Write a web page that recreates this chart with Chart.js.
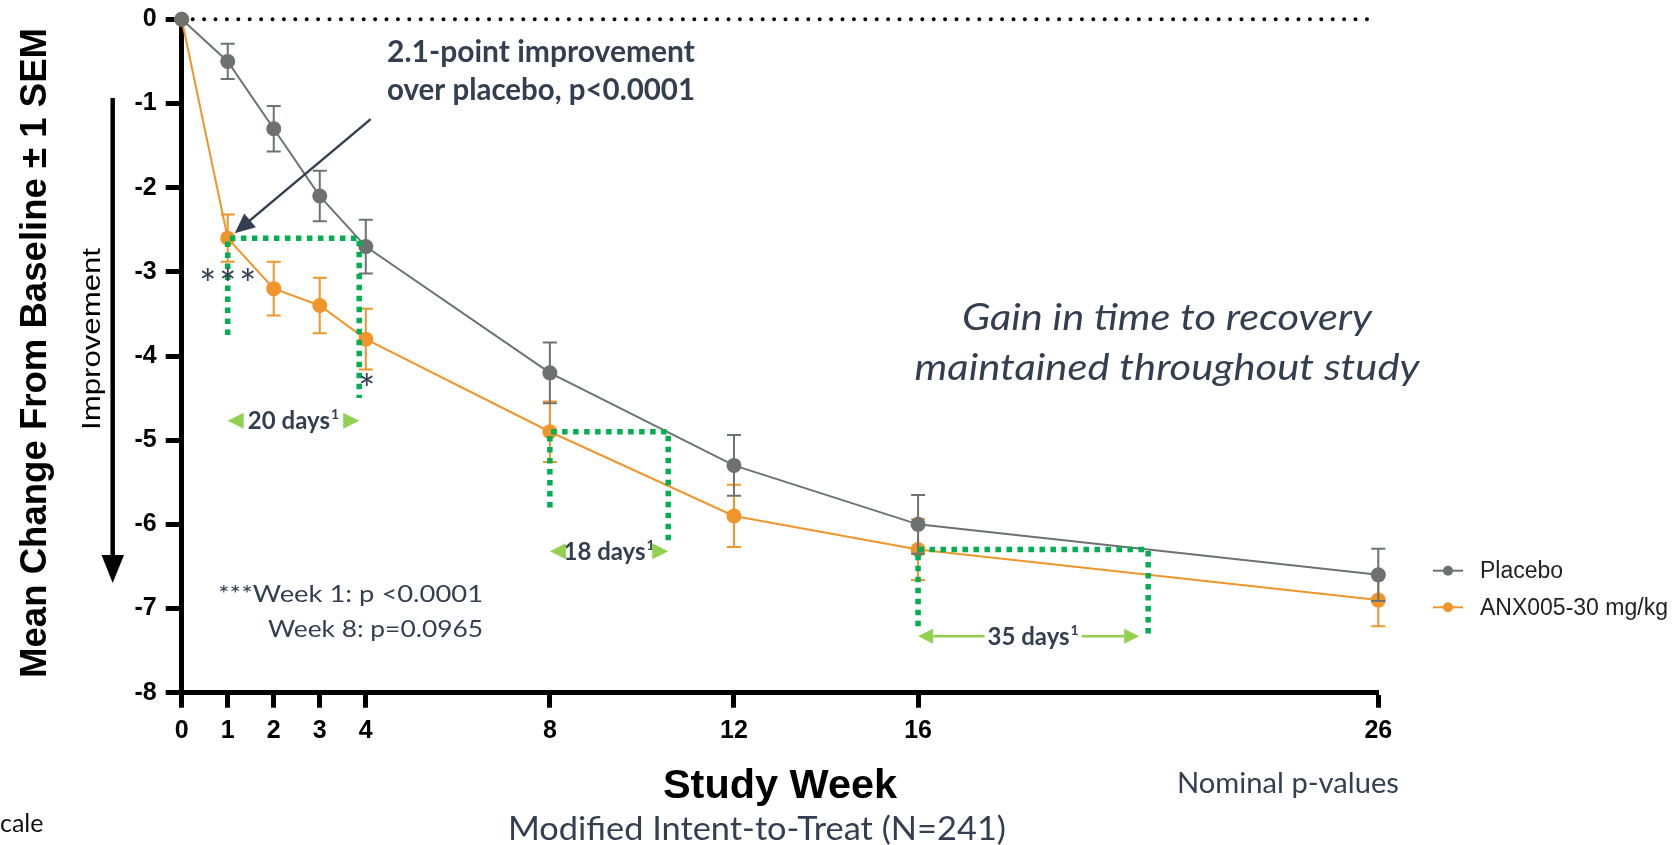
<!DOCTYPE html>
<html>
<head>
<meta charset="utf-8">
<script src="https://cdn.jsdelivr.net/npm/chart.js@4.4.1/dist/chart.umd.min.js"></script>
<style>
  html, body { margin: 0; padding: 0; background: #fff; }
</style>
</head>
<body>
<canvas id="recovery" width="1678" height="845"></canvas>
<script>
// study data (mean change from baseline, +/- 1 SEM)
const weeks = [0, 1, 2, 3, 4, 8, 12, 16, 26]
const placebo = [0, -0.5, -1.3, -2.1, -2.7, -4.2, -5.3, -6.0, -6.6]
const placeboSem = [0, 0.21, 0.27, 0.30, 0.32, 0.36, 0.36, 0.35, 0.31]
const anx = [0, -2.6, -3.2, -3.4, -3.8, -4.9, -5.9, -6.3, -6.9]
const anxSem = [0, 0.28, 0.32, 0.33, 0.36, 0.36, 0.37, 0.36, 0.31]
const xTicks = [0, 1, 2, 3, 4, 8, 12, 16, 26]
const yTicks = [0, -1, -2, -3, -4, -5, -6, -7, -8]
// time-to-recovery gains: start week and days gained
const gainWeeks = [1, 8, 16]
const gainDays = [20, 18, 35]

const GRAY = '#6d7271'
const ORANGE = '#f0952a'
const GREEN = '#00b050'
const LIGHTGREEN = '#92d050'
const SLATE = '#333f50'

// where the dotted guides and day labels sit (value units)
const gainLayout = [
  {leftDrop: -3.75, rightDrop: -4.5, labelY: -4.77, arrowLine: false},
  {leftDrop: -5.8, rightDrop: -6.24, labelY: -6.32, arrowLine: false},
  {leftDrop: -7.21, rightDrop: -7.35, labelY: -7.33, arrowLine: true}
]

function fitText(ctx, text, x, y, w, align) {
  const m = ctx.measureText(text).width
  ctx.save()
  ctx.translate(x, y)
  ctx.scale(w / m, 1)
  ctx.textAlign = align || 'left'
  ctx.fillText(text, 0, 0)
  ctx.restore()
}

function toPoints(vals) {
  return weeks.map((w, i) => ({x: w, y: vals[i]}))
}

const decor = {
  id: 'decor',
  beforeDatasetsDraw(chart) {
    const {ctx, chartArea, scales} = chart
    // dotted zero line
    ctx.save()
    ctx.strokeStyle = '#000'
    ctx.lineWidth = 4
    ctx.lineCap = 'round'
    ctx.setLineDash([0, 11.4])
    const y0 = scales.y.getPixelForValue(0)
    ctx.beginPath()
    ctx.moveTo(chartArea.left + 11, y0)
    ctx.lineTo(chartArea.right - 9, y0)
    ctx.stroke()
    ctx.restore()
  },
  beforeDatasetDraw(chart, args) {
    const {ctx, scales} = chart
    const ds = chart.data.datasets[args.index]
    ctx.save()
    ctx.strokeStyle = ds.borderColor
    ctx.lineWidth = 2
    ds.data.forEach((p, j) => {
      const s = ds.sem[j]
      if (!s) return
      const x = scales.x.getPixelForValue(p.x)
      const yt = scales.y.getPixelForValue(p.y + s)
      const yb = scales.y.getPixelForValue(p.y - s)
      ctx.beginPath()
      ctx.moveTo(x, yt); ctx.lineTo(x, yb)
      ctx.moveTo(x - 7, yt); ctx.lineTo(x + 7, yt)
      ctx.moveTo(x - 7, yb); ctx.lineTo(x + 7, yb)
      ctx.stroke()
    })
    ctx.restore()
  },
  afterDatasetsDraw(chart) {
    const {ctx, scales} = chart
    const xs = scales.x, ys = scales.y

    // green dotted guides and day labels
    gainWeeks.forEach((w, i) => {
      const lay = gainLayout[i]
      const val = anx[weeks.indexOf(w)]
      const endW = w + gainDays[i] / 7
      const x1 = xs.getPixelForValue(w), x2 = xs.getPixelForValue(endW)
      const yv = ys.getPixelForValue(val)
      ctx.save()
      ctx.strokeStyle = GREEN
      ctx.lineWidth = 5.5
      ctx.setLineDash([5.5, 5.5])
      ctx.beginPath()
      ctx.moveTo(x1, ys.getPixelForValue(lay.leftDrop)); ctx.lineTo(x1, yv); ctx.lineTo(x2, yv)
      ctx.lineTo(x2, ys.getPixelForValue(lay.rightDrop))
      ctx.stroke()
      ctx.restore()

      const ly = ys.getPixelForValue(lay.labelY)
      const cx = (x1 + x2) / 2
      ctx.save()
      ctx.font = 'bold 24px Lato'
      const main = gainDays[i] + ' days'
      const mw = ctx.measureText(main).width
      ctx.font = 'bold 14px Lato'
      const sw = ctx.measureText('1').width
      const tw = mw + sw + 1
      const tx = cx - tw / 2
      ctx.fillStyle = SLATE
      ctx.font = 'bold 24px Lato'
      ctx.textAlign = 'left'
      ctx.fillText(main, tx, ly + 8.5)
      ctx.font = 'bold 14px Lato'
      ctx.fillText('1', tx + mw + 1, ly - 1.5)
      // arrows
      ctx.fillStyle = LIGHTGREEN
      ctx.strokeStyle = LIGHTGREEN
      const hl = lay.arrowLine ? 15 : 16, hh = lay.arrowLine ? 7.5 : 8
      const rx = lay.arrowLine ? x2 - 9 : x2
      ctx.beginPath()
      ctx.moveTo(x1, ly); ctx.lineTo(x1 + hl, ly - hh); ctx.lineTo(x1 + hl, ly + hh); ctx.closePath()
      ctx.moveTo(rx, ly); ctx.lineTo(rx - hl, ly - hh); ctx.lineTo(rx - hl, ly + hh); ctx.closePath()
      ctx.fill()
      if (lay.arrowLine) {
        ctx.lineWidth = 2.5
        ctx.beginPath()
        ctx.moveTo(x1 + hl, ly); ctx.lineTo(tx - 3, ly)
        ctx.moveTo(tx + tw + 3, ly); ctx.lineTo(rx - hl, ly)
        ctx.stroke()
      }
      ctx.restore()
    })

    // asterisks
    ctx.save()
    ctx.fillStyle = SLATE
    ctx.font = '40px Lato'
    ctx.textAlign = 'center'
    const ax = xs.getPixelForValue(1), ay = ys.getPixelForValue(-3.04)
    ;[-20, 0, 20].forEach(d => ctx.fillText('*', ax + d, ay + 24))
    ctx.fillText('*', xs.getPixelForValue(4) + 1, ys.getPixelForValue(-4.3) + 23)
    ctx.restore()

    // callout arrow to week 1 point
    const px = xs.getPixelForValue(1) + 7, py = ys.getPixelForValue(anx[1]) - 5
    const qx = px + 136, qy = py - 114
    const ang = Math.atan2(py - qy, px - qx)
    ctx.save()
    ctx.strokeStyle = SLATE
    ctx.fillStyle = SLATE
    ctx.lineWidth = 2.5
    ctx.beginPath()
    ctx.moveTo(qx, qy)
    ctx.lineTo(px - Math.cos(ang) * 16, py - Math.sin(ang) * 16)
    ctx.stroke()
    ctx.beginPath()
    ctx.moveTo(px, py)
    ctx.lineTo(px - Math.cos(ang) * 20 + Math.sin(ang) * 9, py - Math.sin(ang) * 20 - Math.cos(ang) * 9)
    ctx.lineTo(px - Math.cos(ang) * 20 - Math.sin(ang) * 9, py - Math.sin(ang) * 20 + Math.cos(ang) * 9)
    ctx.closePath()
    ctx.fill()
    ctx.restore()

    // annotation texts
    ctx.save()
    ctx.fillStyle = SLATE
    ctx.textBaseline = 'alphabetic'
    ctx.font = 'bold 31px Lato'
    fitText(ctx, '2.1-point improvement', 387, 62, 308)
    fitText(ctx, 'over placebo, p<0.0001', 387, 100, 308)
    ctx.font = 'italic 37px Lato'
    fitText(ctx, 'Gain in time to recovery', 1167, 330, 410, 'center')
    fitText(ctx, 'maintained throughout study', 1167, 380, 505, 'center')
    ctx.font = '24px Lato'
    fitText(ctx, '***Week 1: p <0.0001', 483, 602, 265, 'right')
    fitText(ctx, 'Week 8: p=0.0965', 483, 637, 215, 'right')
    ctx.font = '32px Lato'
    fitText(ctx, 'Modified Intent-to-Treat (N=241)', 508, 840, 498)
    ctx.font = '28px Lato'
    fitText(ctx, 'Nominal p-values', 1177, 793, 222)
    ctx.fillStyle = '#111'
    ctx.font = '25px Lato'
    ctx.fillText('cale', 0, 832)
    ctx.restore()

    // axis titles
    ctx.save()
    ctx.fillStyle = '#000'
    ctx.font = 'bold 40px "Liberation Sans"'
    fitText(ctx, 'Study Week', 663, 798, 234)
    ctx.translate(46, 353)
    ctx.rotate(-Math.PI / 2)
    ctx.font = 'bold 36px "Liberation Sans"'
    fitText(ctx, 'Mean Change From Baseline \u00b1 1 SEM', 0, 0, 650, 'center')
    ctx.restore()

    ctx.save()
    ctx.fillStyle = '#000'
    ctx.translate(99.6, 339)
    ctx.rotate(-Math.PI / 2)
    ctx.font = '25px "Liberation Sans"'
    fitText(ctx, 'Improvement', 0, 0, 182, 'center')
    ctx.restore()

    // improvement arrow
    ctx.save()
    ctx.strokeStyle = '#000'
    ctx.fillStyle = '#000'
    ctx.lineWidth = 4.5
    ctx.beginPath()
    ctx.moveTo(112.7, 98); ctx.lineTo(112.7, 560)
    ctx.stroke()
    ctx.beginPath()
    ctx.moveTo(101.5, 555); ctx.lineTo(124, 555); ctx.lineTo(112.7, 583); ctx.closePath()
    ctx.fill()
    ctx.restore()

    // legend
    ctx.save()
    ctx.font = '23px "Liberation Sans"'
    ctx.textBaseline = 'middle'
    chart.data.datasets.forEach((ds, i) => {
      const ly = 570.7 + i * 36.6
      ctx.strokeStyle = ds.borderColor
      ctx.fillStyle = ds.borderColor
      ctx.lineWidth = 2
      ctx.beginPath(); ctx.moveTo(1433, ly); ctx.lineTo(1463, ly); ctx.stroke()
      ctx.beginPath(); ctx.arc(1448, ly, 5, 0, Math.PI * 2); ctx.fill()
      ctx.fillStyle = '#222'
      ctx.fillText(ds.label, 1480, ly + 1)
    })
    ctx.restore()
  }
}

const tickFont = {family: '"Liberation Sans", Arial', size: 25, weight: 'bold'}

new Chart(document.getElementById('recovery'), {
  type: 'line',
  data: {
    datasets: [{
      label: 'Placebo',
      data: toPoints(placebo),
      sem: placeboSem,
      borderColor: GRAY,
      backgroundColor: GRAY,
      borderWidth: 2,
      pointRadius: 7.5,
      pointBorderWidth: 0,
      clip: false
    }, {
      label: 'ANX005-30 mg/kg',
      data: toPoints(anx),
      sem: anxSem,
      borderColor: ORANGE,
      backgroundColor: ORANGE,
      borderWidth: 2,
      pointRadius: 7.5,
      pointBorderWidth: 0,
      clip: false
    }]
  },
  options: {
    responsive: false,
    animation: false,
    layout: {padding: {top: 19.3, left: 0, right: 299.7, bottom: 0}},
    plugins: {legend: {display: false}, tooltip: {enabled: false}},
    scales: {
      x: {
        type: 'linear',
        min: 0,
        max: 26,
        afterBuildTicks: s => { s.ticks = xTicks.map(v => ({value: v})) },
        afterFit: s => { s.height = 152.3; s.paddingLeft = 0; s.paddingRight = 0 },
        border: {display: true, width: 5, color: '#000'},
        grid: {drawOnChartArea: false, drawTicks: true, tickLength: 15, tickWidth: 5, color: '#000'},
        ticks: {color: '#000', font: tickFont, padding: 8, maxRotation: 0, autoSkip: false}
      },
      y: {
        min: -8,
        max: 0,
        afterBuildTicks: s => { s.ticks = yTicks.map(v => ({value: v})) },
        afterFit: s => { s.width = 181.7; s.paddingTop = 0; s.paddingBottom = 0 },
        border: {display: true, width: 5, color: '#000'},
        grid: {drawOnChartArea: false, drawTicks: true, tickLength: 16, tickWidth: 5, color: '#000'},
        ticks: {color: '#000', font: tickFont, padding: 9}
      }
    }
  },
  plugins: [decor]
})
</script>
</body>
</html>
